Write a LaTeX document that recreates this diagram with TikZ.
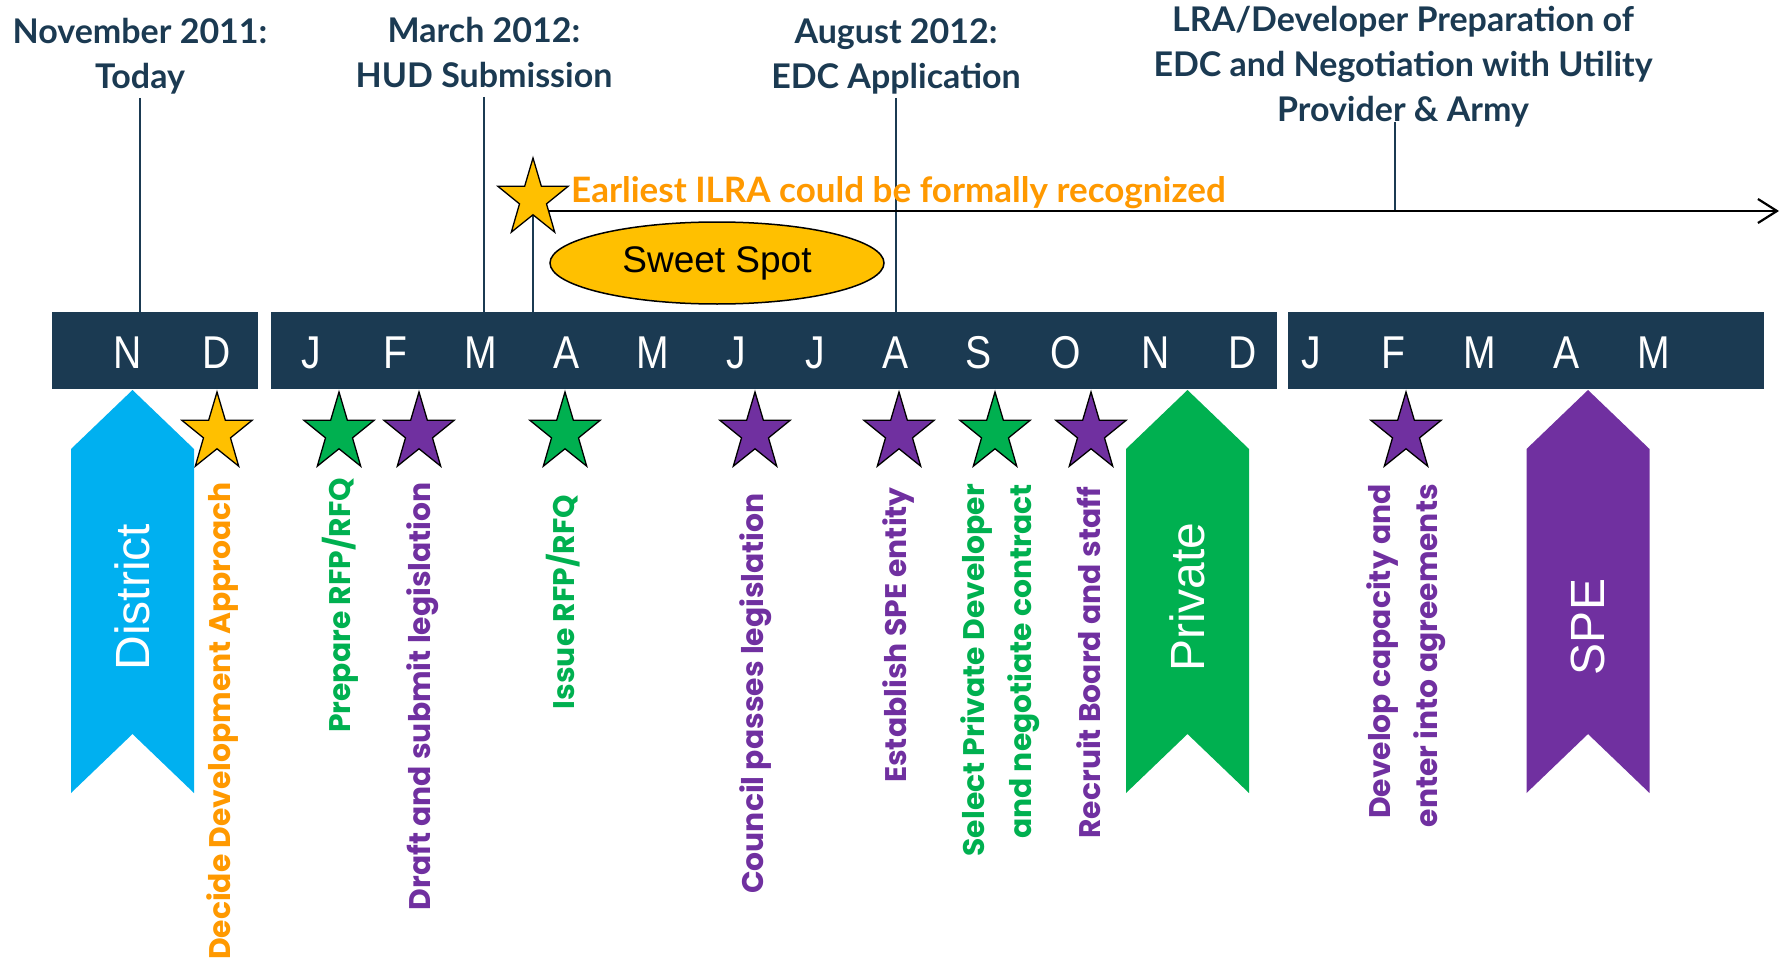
\documentclass[tikz,border=0pt]{standalone}
\usepackage{fontspec}
\setmainfont{Liberation Sans}
\newfontfamily\headfont{Lato}
\newfontfamily\taskfont{Poppins}
\usetikzlibrary{shapes.geometric,arrows.meta}

\definecolor{navy}{HTML}{1B3A52}
\definecolor{amber}{HTML}{FF9900}
\definecolor{gold}{HTML}{FFC000}
\definecolor{sky}{HTML}{00B0F0}
\definecolor{grass}{HTML}{00B050}
\definecolor{grape}{HTML}{7030A0}

\tikzset{
  head/.style={text=navy, font=\headfont\bfseries\fontsize{34}{45}\selectfont,
    align=center, inner sep=3pt, text depth=6pt, anchor=south},
  tick/.style={navy, line width=1.5pt},
  month/.style={text=white, font=\fontsize{46}{46}\selectfont, xscale=0.85,
    inner sep=0pt, anchor=base},
  goal/.style={star, star points=5, star point ratio=2.6, minimum size=82pt,
    inner sep=0pt, draw=black, line width=1.3pt, xscale=0.9},
  task/.style={font=\taskfont\bfseries\fontsize{29.8}{47}\selectfont, rotate=90,
    anchor=east, align=right, inner sep=0pt, text height=0.75em, text depth=0.25em},
  banner/.style={text=white, font=\fontsize{48}{48}\selectfont, rotate=90, inner sep=0pt},
}

\begin{document}
\begin{tikzpicture}[x=1pt,y=-1pt]
\useasboundingbox (0,0) rectangle (1787,960);

\coordinate (bartop) at (0,312);
\coordinate (recog) at (533,211);
\coordinate (horizon) at (1779,211);
\coordinate (lrafoot) at (1395,122);

\node[head] (today) at (140,98) {November 2011:\\Today};
\node[head] (hud) at (484,97) {March 2012:\\HUD Submission};
\node[head] (edc) at (896,98) {August 2012:\\EDC Application};
\node[head] (lra) at (1403,131) {LRA/Developer Preparation of\\EDC and Negotiation with Utility\\Provider \& Army};

\draw[tick] (today.south) -- (today.south |- bartop);
\draw[tick] (hud.south) -- (hud.south |- bartop);
\draw[tick] (edc.south) -- (edc.south |- bartop);
\draw[tick] (lrafoot) -- (lrafoot |- horizon);
\draw[tick] (recog |- 0,199) -- (recog |- bartop);

\draw[line width=2.2pt, -{Straight Barb[length=19pt,width=24pt]}] (recog) -- (horizon);
\node[goal, fill=gold] (ilra) at (533,199) {};
\node[anchor=base west, text=amber, inner sep=0pt,
  font=\headfont\bfseries\fontsize{35}{35}\selectfont] (ilranote) at (571,203)
  {Earliest ILRA could be formally recognized};

\node[ellipse, draw=black, line width=1.5pt, fill=gold, minimum width=334pt,
  minimum height=82pt, font=\fontsize{37}{37}\selectfont] (sweet) at (717,263) {Sweet Spot};

\fill[navy] (52,312) rectangle (258,389);
\fill[navy] (271,312) rectangle (1277,389);
\fill[navy] (1288,312) rectangle (1764,389);

\foreach \x/\m in {128/N,217/D,311/J,395/F,481/M,567/A,653/M,736/J,815/J,896/A,
  979/S,1066/O,1156/N,1243/D,1311/J,1393/F,1480/M,1567/A,1654/M}
\node[month] (m\x) at (\x,368) {\m};

\foreach \x/\txt/\col/\ty in {132.5/District/sky/597,1187.5/Private/grass/597,1588/SPE/grape/627}{
\fill[\col] (\x-61.5,449) -- (\x,390) -- (\x+61.5,449) -- (\x+61.5,793) -- (\x,734) -- (\x-61.5,793) -- cycle;
\node[banner] (\txt) at (\x,\ty) {\txt};
}

\foreach \x/\col in {217/gold,339/grass,419/grape,565/grass,755/grape,899/grape,995/grass,1091/grape,1406/grape}
\node[goal, fill=\col] (s\x) at (\x,433) {};

\node[task, text=amber] (decide) at (228,482) {Decide Development Approach};
\node[task, text=grass] (prepare) at (348,478) {Prepare RFP/RFQ};
\node[task, text=grape] (draft) at (428,482) {Draft and submit legislation};
\node[task, text=grass] (issue) at (572,495) {Issue RFP/RFQ};
\node[task, text=grape] (council) at (761,493) {Council passes legislation};
\node[task, text=grape] (establish) at (904,487) {Establish SPE entity};
\node[task, text=grass] (select) at (1029,484) {Select Private Developer\\and negotiate contract};
\node[task, text=grape] (recruit) at (1098,487) {Recruit Board and staff};
\node[task, text=grape] (develop) at (1435,484) {Develop capacity and\\enter into agreements};
\end{tikzpicture}
\end{document}
